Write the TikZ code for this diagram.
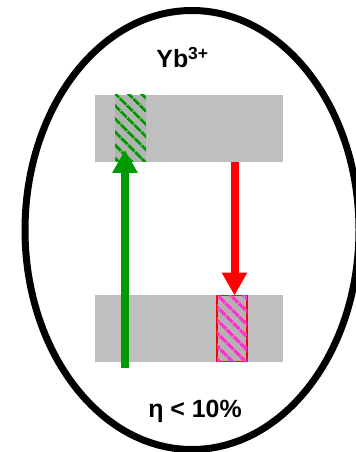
\documentclass[tikz,border=0pt]{standalone}
\usepackage{fontspec}
\setmainfont{Liberation Sans}
\usetikzlibrary{arrows.meta,patterns.meta}
\definecolor{bandgray}{RGB}{191,191,191}
\definecolor{boxgray}{RGB}{178,178,178}
\definecolor{exgreen}{RGB}{0,153,0}
\definecolor{hotpink}{RGB}{255,51,204}
\begin{document}
\begin{tikzpicture}[x=1bp,y=-1bp,
  band/.style={fill=bandgray,draw=none,minimum width=188bp,minimum height=67bp,inner sep=0pt,outer sep=0pt},
  hatchbox/.style={draw=none,minimum width=31bp,minimum height=67bp,inner sep=0pt,outer sep=0pt},
  bigarrow/.style={line width=8bp,-{Triangle[length=23bp,width=24bp]}},
  lbl/.style={font=\fontsize{25}{30}\selectfont\bfseries,inner sep=0pt,anchor=base}]
\useasboundingbox (0,0) rectangle (355,452);
\fill[white] (0,0) rectangle (355,452);
\draw[line width=7bp] (192,230) ellipse [x radius=167, y radius=219.5];
\node[band] (upper) at (189,128.5) {};
\node[band] (lower) at (189,328.5) {};
\node[hatchbox,fill=boxgray,postaction={pattern={Lines[angle=-45,distance=10bp,line width=3.5bp]},pattern color=exgreen}] (gbox) at (130.5,128.5) {};
\node[hatchbox,fill=boxgray,draw=red,line width=1.5bp,minimum width=30bp,minimum height=66bp,postaction={pattern={Lines[angle=-45,distance=10bp,line width=4bp]},pattern color=hotpink}] (pbox) at (232,328.5) {};
\coordinate (gstart) at (125,368);
\coordinate (gend) at (125,150);
\coordinate (rstart) at (234.5,162);
\draw[bigarrow,exgreen] (gstart) -- (gend);
\draw[bigarrow,red] (rstart) -- (rstart |- pbox.north);
\node[lbl] (ion) at (182.5,68) {Yb\textsuperscript{3+}};
\node[lbl] (eta) at (195,417) {η < 10\%};
\end{tikzpicture}
\end{document}
